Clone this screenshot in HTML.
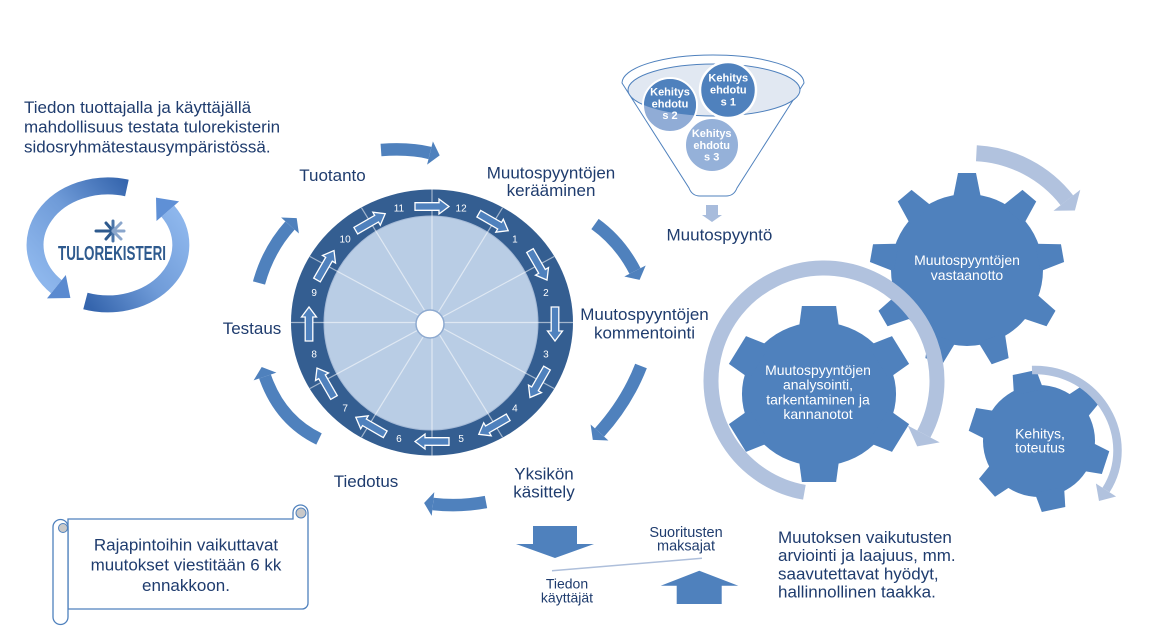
<!DOCTYPE html>
<html><head><meta charset="utf-8"><style>
html,body{margin:0;padding:0;background:#fff;}
svg{display:block;}
text{font-family:"Liberation Sans",Arial,sans-serif;}
</style></head><body>
<svg width="1159" height="641" viewBox="0 0 1159 641" xmlns="http://www.w3.org/2000/svg">
<defs>
  <linearGradient id="g1" gradientUnits="userSpaceOnUse" x1="130" y1="185" x2="35" y2="270">
    <stop offset="0" stop-color="#3565ad"/><stop offset="0.5" stop-color="#6f9bd8"/><stop offset="1" stop-color="#8db6ec"/>
  </linearGradient>
  <linearGradient id="g2" gradientUnits="userSpaceOnUse" x1="85" y1="300" x2="185" y2="225">
    <stop offset="0" stop-color="#3565ad"/><stop offset="0.5" stop-color="#6f9bd8"/><stop offset="1" stop-color="#8db6ec"/>
  </linearGradient>
  <clipPath id="rimclip"><ellipse cx="714" cy="90" rx="86" ry="26"/></clipPath>
  <path id="ra" d="M-17,-3.8 L7,-3.8 L7,-7.5 L17,0 L7,7.5 L7,3.8 L-17,3.8 Z" fill="#4f81bd" stroke="#ffffff" stroke-width="1.3"/>
</defs>

<!-- top-left text -->
<g fill="#1f3c6e" font-size="17">
  <text x="24" y="113">Tiedon tuottajalla ja käyttäjällä</text>
  <text x="24" y="132.7">mahdollisuus testata tulorekisterin</text>
  <text x="24" y="152.4">sidosryhmätestausympäristössä.</text>
</g>

<!-- logo -->
<path d="M126.9,188 A73,59 0 0 0 56.4,286.7" fill="none" stroke="url(#g1)" stroke-width="17"/>
<polygon points="65.8,275 47,298.4 70.4,298" fill="#5a8ad0"/>
<path d="M85.4,301 A73,59 0 0 0 167.8,211.2" fill="none" stroke="url(#g2)" stroke-width="17"/>
<polygon points="179.1,201.4 156.5,221 156,197.6" fill="#5f90d6"/>
<g stroke-width="3" stroke-linecap="round">
  <line x1="96" y1="231" x2="113" y2="231" stroke="#2e5a8e"/>
  <line x1="106" y1="223" x2="113" y2="231" stroke="#2e5a8e"/>
  <line x1="106" y1="239" x2="113" y2="231" stroke="#2e5a8e"/>
  <line x1="113" y1="221" x2="113" y2="241" stroke="#4a74a8"/>
  <line x1="113" y1="231" x2="124" y2="231" stroke="#8aa6cc"/>
  <line x1="113" y1="231" x2="121" y2="223" stroke="#8aa6cc"/>
  <line x1="113" y1="231" x2="121" y2="239" stroke="#8aa6cc"/>
</g>
<text x="58" y="260" font-size="20" font-weight="bold" fill="#2e5a8e" textLength="108" lengthAdjust="spacingAndGlyphs">TULOREKISTERI</text>

<!-- big arrows around the wheel -->
<g fill="none" stroke="#4f81bd" stroke-width="12.5">
  <path d="M381,150 Q410,148 430,153"/>
  <path d="M595,224 Q620,242 635,271"/>
  <path d="M641,366 Q627,402 599.5,432.5"/>
  <path d="M486,502 Q460,507 433,504"/>
  <path d="M319,439 Q280,420 265,376.5"/>
  <path d="M259,283 Q268,250 290,225.5"/>
</g>
<g fill="#4f81bd">
  <polygon points="432.9,141.4 439.7,155.4 427.1,164.6"/>
  <polygon points="645.7,265.5 639.6,279.9 624.3,276.5"/>
  <polygon points="608.4,440.5 592.8,439.9 590.6,424.5"/>
  <polygon points="434.3,492.1 424.1,503 431.7,515.9"/>
  <polygon points="276.4,372.6 261.7,367 253.6,380.4"/>
  <polygon points="298.9,233.5 296.7,218.1 281.1,217.5"/>
</g>

<!-- wheel -->
<ellipse cx="432" cy="322.5" rx="141" ry="133" fill="#345e91"/>
<circle cx="431" cy="323" r="107" fill="#b9cde5" stroke="#a4b9d6" stroke-width="1"/>
<g stroke="#ffffff" stroke-opacity="0.55" stroke-width="1.2">
  <line x1="432" y1="189.5" x2="432" y2="455.5"/>
  <line x1="502.5" y1="207.8" x2="361.5" y2="437.2"/>
  <line x1="554.1" y1="256.5" x2="309.9" y2="388.5"/>
  <line x1="573" y1="322.5" x2="291" y2="322.5"/>
  <line x1="554.1" y1="388.5" x2="309.9" y2="256.5"/>
  <line x1="502.5" y1="437.2" x2="361.5" y2="207.8"/>
</g>
<circle cx="430" cy="324" r="14" fill="#ffffff" stroke="#8eaad0" stroke-width="1.5"/>
<g fill="#ffffff" font-size="10" text-anchor="middle" dominant-baseline="central">
  <text x="461.1" y="208.9">12</text>
  <text x="514.9" y="239.8">1</text>
  <text x="545.9" y="293.4">2</text>
  <text x="545.9" y="355.2">3</text>
  <text x="514.9" y="408.8">4</text>
  <text x="461.1" y="439.7">5</text>
  <text x="398.9" y="439.7">6</text>
  <text x="345.1" y="408.8">7</text>
  <text x="314.1" y="355.2">8</text>
  <text x="314.1" y="293.4">9</text>
  <text x="345.1" y="239.8">10</text>
  <text x="398.9" y="208.9">11</text>
</g>
<use href="#ra" transform="translate(432,206.5) rotate(0)"/>
<use href="#ra" transform="translate(493.5,222.2) rotate(30)"/>
<use href="#ra" transform="translate(538.5,265.3) rotate(60)"/>
<use href="#ra" transform="translate(555,324) rotate(90)"/>
<use href="#ra" transform="translate(538.5,382.8) rotate(120)"/>
<use href="#ra" transform="translate(493.5,425.8) rotate(150)"/>
<use href="#ra" transform="translate(432,441.5) rotate(180)"/>
<use href="#ra" transform="translate(370.5,425.8) rotate(210)"/>
<use href="#ra" transform="translate(325.5,382.8) rotate(240)"/>
<use href="#ra" transform="translate(309,324) rotate(270)"/>
<use href="#ra" transform="translate(325.5,265.3) rotate(300)"/>
<use href="#ra" transform="translate(370.5,222.2) rotate(330)"/>

<!-- wheel labels -->
<g fill="#1f3c6e" font-size="17" text-anchor="middle">
  <text x="332.5" y="181">Tuotanto</text>
  <text x="551" y="178.5">Muutospyyntöjen</text>
  <text x="551" y="196">kerääminen</text>
  <text x="644.5" y="320">Muutospyyntöjen</text>
  <text x="644.5" y="338.5">kommentointi</text>
  <text x="252" y="334">Testaus</text>
  <text x="366" y="487">Tiedotus</text>
  <text x="544" y="479.5">Yksikön</text>
  <text x="544" y="497.5">käsittely</text>
</g>

<!-- funnel -->
<path d="M622,83 A91,28 0 0 1 804,83 L737,188 Q734,196 726,196 L700,196 Q692,196 689,188 Z" fill="#ffffff" stroke="#4f81bd" stroke-width="1"/>
<ellipse cx="714" cy="90" rx="86" ry="26" fill="#e1e8f2" stroke="#4f81bd" stroke-width="1"/>
<circle cx="670" cy="105" r="27" fill="#90acd6" stroke="#ffffff" stroke-width="2"/>
<circle cx="670" cy="105" r="26" fill="#4f81bd" clip-path="url(#rimclip)"/>
<circle cx="728" cy="90" r="28" fill="#4f81bd" stroke="#ffffff" stroke-width="2.5"/>
<circle cx="712" cy="145" r="27" fill="#95b1d9" stroke="#ffffff" stroke-width="2"/>
<g fill="#ffffff" font-size="11" font-weight="bold" text-anchor="middle" dominant-baseline="central">
  <text x="728.3" y="78.3">Kehitys</text>
  <text x="728.3" y="90.7">ehdotu</text>
  <text x="728.3" y="102.7">s 1</text>
  <text x="670" y="92.7">Kehitys</text>
  <text x="670" y="104.3">ehdotu</text>
  <text x="670" y="116">s 2</text>
  <text x="711.7" y="134">Kehitys</text>
  <text x="711.7" y="146">ehdotu</text>
  <text x="711.7" y="157.5">s 3</text>
</g>
<polygon points="706,205 718,205 718,215 722,215 712,222 702,215 706,215" fill="#a8bcdc"/>
<text x="666.5" y="240.5" font-size="17" fill="#1f3c6e">Muutospyyntö</text>

<!-- gears -->
<g transform="translate(967,270)" fill="#4f81bd">
  <circle r="76"/>
  <polygon points="-14,-72 -9,-97 9,-97 14,-72"/>
  <polygon points="-14,-72 -9,-97 9,-97 14,-72" transform="rotate(40)"/>
  <polygon points="-14,-72 -9,-97 9,-97 14,-72" transform="rotate(80)"/>
  <polygon points="-14,-72 -9,-97 9,-97 14,-72" transform="rotate(120)"/>
  <polygon points="-14,-72 -9,-97 9,-97 14,-72" transform="rotate(160)"/>
  <polygon points="-14,-72 -9,-97 9,-97 14,-72" transform="rotate(200)"/>
  <polygon points="-14,-72 -9,-97 9,-97 14,-72" transform="rotate(240)"/>
  <polygon points="-14,-72 -9,-97 9,-97 14,-72" transform="rotate(280)"/>
  <polygon points="-14,-72 -9,-97 9,-97 14,-72" transform="rotate(320)"/>
</g>
<g transform="translate(819,394) scale(1.07,1)" fill="#4f81bd">
  <circle r="72"/>
  <polygon points="-19,-64 -16,-88 16,-88 19,-64"/>
  <polygon points="-19,-64 -16,-88 16,-88 19,-64" transform="rotate(60)"/>
  <polygon points="-19,-64 -16,-88 16,-88 19,-64" transform="rotate(120)"/>
  <polygon points="-19,-64 -16,-88 16,-88 19,-64" transform="rotate(180)"/>
  <polygon points="-19,-64 -16,-88 16,-88 19,-64" transform="rotate(240)"/>
  <polygon points="-19,-64 -16,-88 16,-88 19,-64" transform="rotate(300)"/>
</g>
<g transform="translate(1039,441) rotate(-12)" fill="#4f81bd">
  <circle r="56"/>
  <polygon points="-15,-50 -12,-70 12,-70 15,-50"/>
  <polygon points="-15,-50 -12,-70 12,-70 15,-50" transform="rotate(60)"/>
  <polygon points="-15,-50 -12,-70 12,-70 15,-50" transform="rotate(120)"/>
  <polygon points="-15,-50 -12,-70 12,-70 15,-50" transform="rotate(180)"/>
  <polygon points="-15,-50 -12,-70 12,-70 15,-50" transform="rotate(240)"/>
  <polygon points="-15,-50 -12,-70 12,-70 15,-50" transform="rotate(300)"/>
</g>

<!-- gear arcs -->
<path d="M976.4,153.2 A123,123 0 0 1 1066.9,200.3" fill="none" stroke="#b1c2de" stroke-width="16"/>
<polygon points="1080.3,189.8 1074.9,210.5 1053.5,210.8" fill="#b1c2de"/>
<path d="M804.4,492.3 A113,113 0 1 1 923.8,434" fill="none" stroke="#b1c2de" stroke-width="15"/>
<polygon points="939.7,442.4 917.2,446.4 907.9,425.6" fill="#b1c2de"/>
<path d="M1032,370 C1100,368 1138,440 1106,490" fill="none" stroke="#b1c2de" stroke-width="8.5"/>
<polygon points="1116.1,496.5 1099,501 1095.9,483.5" fill="#b1c2de"/>

<!-- gear texts -->
<g fill="#ffffff" font-size="14" text-anchor="middle">
  <text x="967" y="265">Muutospyyntöjen</text>
  <text x="967" y="280">vastaanotto</text>
  <text x="818" y="375">Muutospyyntöjen</text>
  <text x="818" y="389.5">analysointi,</text>
  <text x="818" y="404.5">tarkentaminen ja</text>
  <text x="818" y="419">kannanotot</text>
  <text x="1040" y="438.5">Kehitys,</text>
  <text x="1040" y="452.5">toteutus</text>
</g>

<!-- scroll -->
<path d="M68,519 H293 V512.5 A7.5,7.5 0 0 1 308,512.5 V603 A6,6 0 0 1 302,609 H68 Z" fill="#ffffff" stroke="#4f81bd" stroke-width="1.3"/>
<path d="M53,527 A7.5,7.5 0 0 1 68,527 V617 A7.5,7.5 0 0 1 53,617 Z" fill="#ffffff" stroke="#4f81bd" stroke-width="1.3"/>
<circle cx="63" cy="528" r="4.5" fill="#c8c8c8" stroke="#4f81bd" stroke-width="1"/>
<circle cx="301" cy="513" r="5" fill="#c8c8c8" stroke="#4f81bd" stroke-width="1"/>
<g fill="#1f3c6e" font-size="17" text-anchor="middle">
  <text x="186" y="550.5">Rajapintoihin vaikuttavat</text>
  <text x="186" y="570.5">muutokset viestitään 6 kk</text>
  <text x="186" y="591">ennakkoon.</text>
</g>

<!-- bottom middle -->
<polygon points="533,526 577,526 577,544 594,544 555,558 516,544 533,544" fill="#4f81bd"/>
<polygon points="699.3,570.7 738.3,585.7 721.7,585.7 721.7,604 676.7,604 676.7,585.7 660.7,585.7" fill="#4f81bd"/>
<line x1="552" y1="570.7" x2="702" y2="558.3" stroke="#aebfdb" stroke-width="1.5"/>
<g fill="#1f3c6e" font-size="14.5" text-anchor="middle">
  <text x="686" y="537">Suoritusten</text>
  <text x="686" y="550.5">maksajat</text>
</g>
<g fill="#1f3c6e" font-size="14" text-anchor="middle">
  <text x="567" y="588.5">Tiedon</text>
  <text x="567" y="602.5">käyttäjät</text>
</g>

<!-- bottom right text -->
<g fill="#1f3c6e" font-size="17">
  <text x="778" y="543">Muutoksen vaikutusten</text>
  <text x="778" y="561.2">arviointi ja laajuus, mm.</text>
  <text x="778" y="579.4">saavutettavat hyödyt,</text>
  <text x="778" y="597.6">hallinnollinen taakka.</text>
</g>
</svg>
</body></html>
